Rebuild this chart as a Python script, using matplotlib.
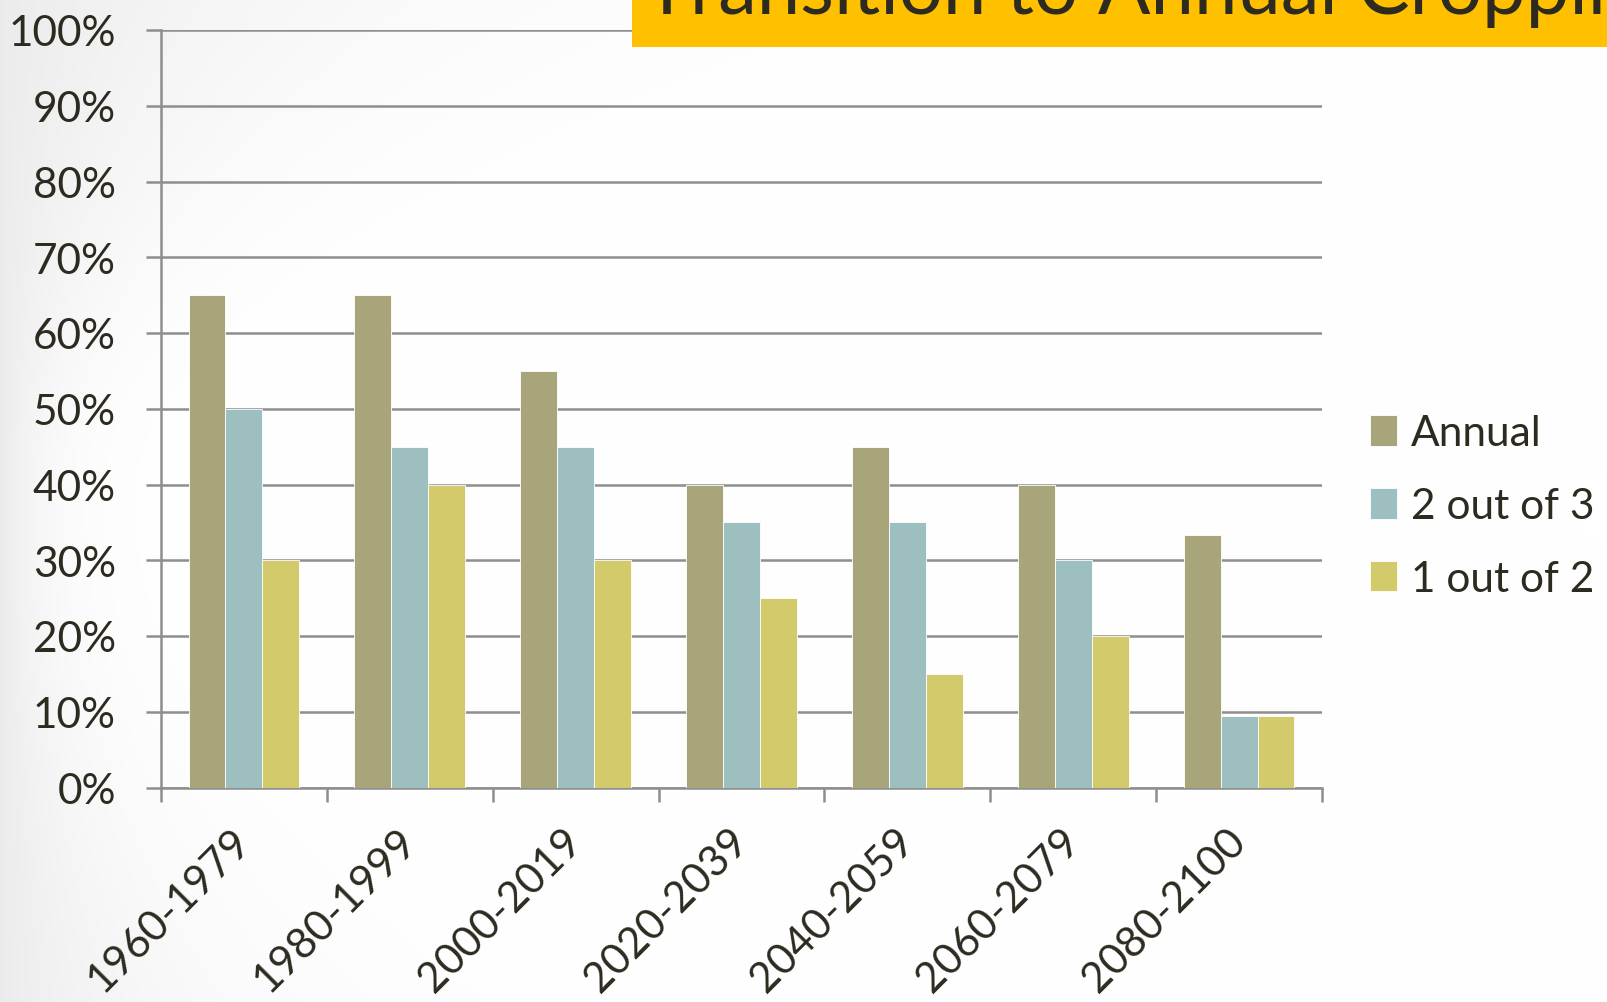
import numpy as np
import matplotlib
matplotlib.use("Agg")
import matplotlib.pyplot as plt
from matplotlib.patches import Rectangle

categories = ["1960-1979", "1980-1999", "2000-2019", "2020-2039",
              "2040-2059", "2060-2079", "2080-2100"]
annual = [65, 65, 55, 40, 45, 40, 33.3]
two_of_three = [50, 45, 45, 35, 35, 30, 9.5]
one_of_two = [30, 40, 30, 25, 15, 20, 9.5]
series_names = ["Annual", "2 out of 3", "1 out of 2"]
yticks = [0, 10, 20, 30, 40, 50, 60, 70, 80, 90, 100]
title = "Transition to Annual Cropping"

colors = ["#A8A57A", "#9DBFBF", "#D3CB6B"]
text_color = "#2D2A20"
grid_color = "#8E8E8E"
FONT = ["Lato", "DejaVu Sans"]
plt.rcParams["font.family"] = FONT

W, H = 1608, 1003
fig = plt.figure(figsize=(W / 100, H / 100), dpi=100)

# background vignette (light gray at left edge, stronger near top-left)
bg = fig.add_axes([0, 0, 1, 1], zorder=-10)
xp = np.arange(0, W, 4)
yp = np.arange(0, H, 4)
X, Y = np.meshgrid(xp, yp)  # Y from top
yt = Y / H
width = 45 + 260 * np.clip(1 - 2 * yt, 0, 1) ** 2 + 120 * np.clip(2 * yt - 1, 0, 1) ** 2
shade = 1 - 0.075 * np.exp(-X / width)
img = np.dstack([shade, shade, shade])
bg.imshow(img, extent=[0, 1, 0, 1], aspect="auto", origin="upper")
bg.set_xlim(0, 1)
bg.set_ylim(0, 1)
bg.axis("off")

ax = fig.add_axes([161 / W, 1 - 788.5 / H, (1322 - 161) / W, (788.5 - 31) / H])
ax.patch.set_alpha(0)

n = len(categories)
x = np.arange(n)
bw = 0.6667 / 3
for i, (vals, c, name) in enumerate(zip([annual, two_of_three, one_of_two], colors, series_names)):
    ax.bar(x + (i - 1) * bw, vals, width=bw, color=c, edgecolor="white",
           linewidth=0.6, label=name, zorder=3)

ax.set_xlim(-0.5, n - 0.5)
ax.set_ylim(0, 100)
ax.set_yticks(yticks)
ax.set_yticklabels([f"{v}%" for v in yticks])
ax.yaxis.grid(True, color=grid_color, linewidth=1.8, zorder=0)
ax.set_axisbelow(True)

ax.set_xticks(np.arange(n + 1) - 0.5)
ax.set_xticklabels([""] * (n + 1))
ax.set_xticks(x, minor=True)
ax.set_xticklabels(categories, minor=True, rotation=45, ha="right",
                   rotation_mode="anchor", va="center")
ax.tick_params(axis="x", which="major", length=10, width=1.8, color=grid_color, direction="out")
ax.tick_params(axis="x", which="minor", length=0, pad=34, labelsize=30.5, labelcolor=text_color)
ax.tick_params(axis="y", length=10.5, width=1.8, color=grid_color, pad=22,
               labelsize=30.5, labelcolor=text_color)

for s in ["top", "right"]:
    ax.spines[s].set_visible(False)
for s in ["left", "bottom"]:
    ax.spines[s].set_color(grid_color)
    ax.spines[s].set_linewidth(1.8)

leg = fig.legend(loc="center left", bbox_to_anchor=(1370 / W, 1 - 507 / H),
                 frameon=False, fontsize=30.5, handlelength=0.64, handleheight=0.74,
                 handletextpad=0.32, labelspacing=0.82, borderaxespad=0, borderpad=0)
for t in leg.get_texts():
    t.set_color(text_color)

# title banner
fig.patches.append(Rectangle((632 / W, 1 - 48 / H), 1 - 632 / W, 48 / H,
                             transform=fig.transFigure, facecolor="#FFC000",
                             edgecolor="none", zorder=5))
fig.text(644 / W, 1 - 14 / H, title, fontsize=56, color=text_color,
         ha="left", va="baseline", zorder=6)

fig.savefig("out.png", dpi=100)
